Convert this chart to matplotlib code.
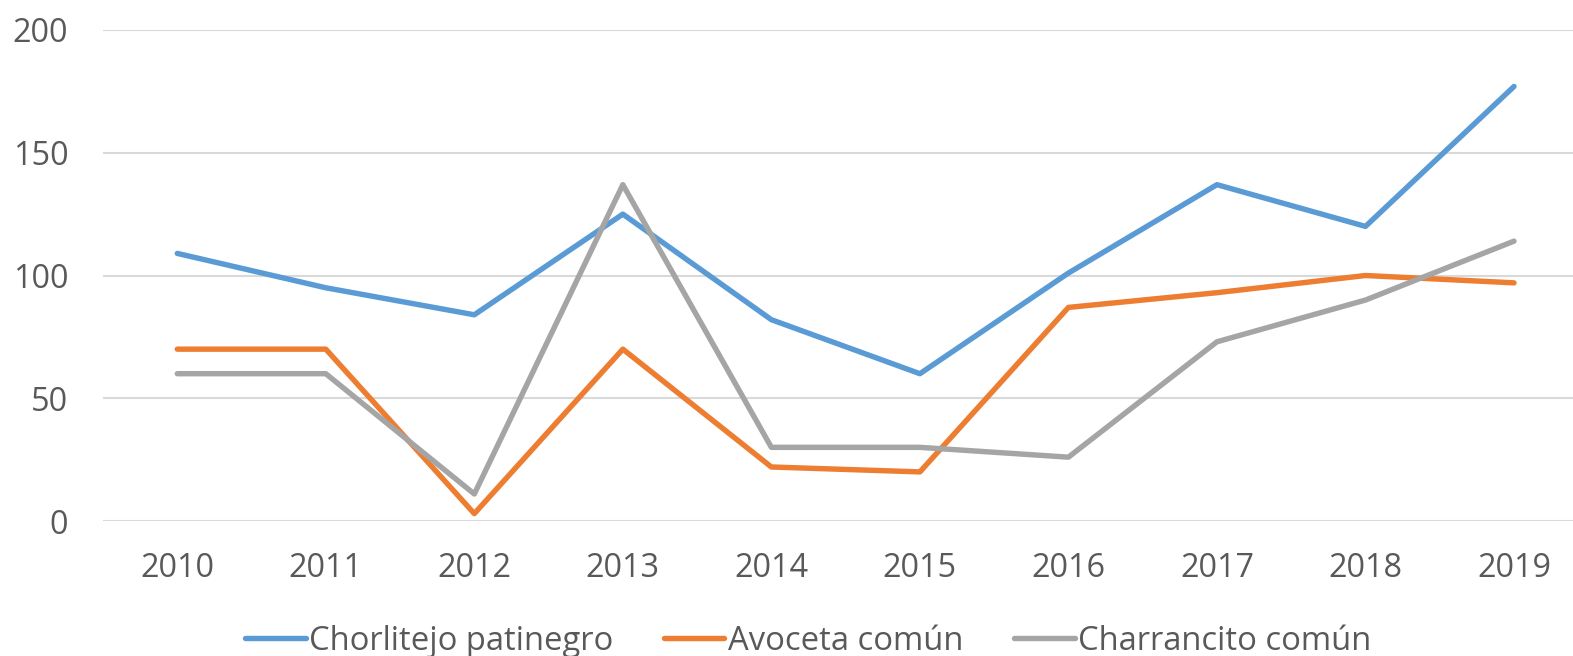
import matplotlib
matplotlib.use("Agg")
import matplotlib.pyplot as plt

years = ["2010", "2011", "2012", "2013", "2014", "2015", "2016", "2017", "2018", "2019"]
chorlitejo = [109, 95, 84, 125, 82, 60, 101, 137, 120, 177]
avoceta = [70, 70, 3, 70, 22, 20, 87, 93, 100, 97]
charrancito = [60, 60, 11, 137, 30, 30, 26, 73, 90, 114]
series_names = ["Chorlitejo patinegro", "Avoceta común", "Charrancito común"]
yticks = [0, 50, 100, 150, 200]

W, H = 1573, 656
plt.rcParams["font.family"] = ["Open Sans", "DejaVu Sans"]
fig = plt.figure(figsize=(W / 100, H / 100), dpi=100)
ax = fig.add_axes([103 / W, 1 - 521 / H, 1 - 103 / W, 491 / H])

x = range(len(years))
colors = ["#5B9BD5", "#ED7D31", "#A5A5A5"]
for vals, name, c in zip([chorlitejo, avoceta, charrancito], series_names, colors):
    ax.plot(x, vals, color=c, lw=3.9, label=name, solid_capstyle="round",
            solid_joinstyle="round", clip_on=False)

ax.set_ylim(0, 200)
ax.set_xlim(-0.5, (W - 177) / ((1514 - 177) / 9))
ax.set_yticks(yticks)
ax.set_xticks(list(x))
ax.set_xticklabels(years)
ax.yaxis.grid(True, color="#D9D9D9", lw=1.5)
ax.set_axisbelow(True)
for s in ax.spines.values():
    s.set_visible(False)
ax.tick_params(axis="both", length=0, labelsize=23.3, labelcolor="#595959")
ax.tick_params(axis="y", pad=25)
ax.tick_params(axis="x", pad=22)

fig.legend(loc="center", bbox_to_anchor=(808 / W, 1 - 641 / H), ncol=3, frameon=False,
           fontsize=23.6, labelcolor="#595959", handlelength=1.85, handletextpad=0.1,
           columnspacing=1.55, borderaxespad=0)

fig.savefig("out.png", dpi=100)
